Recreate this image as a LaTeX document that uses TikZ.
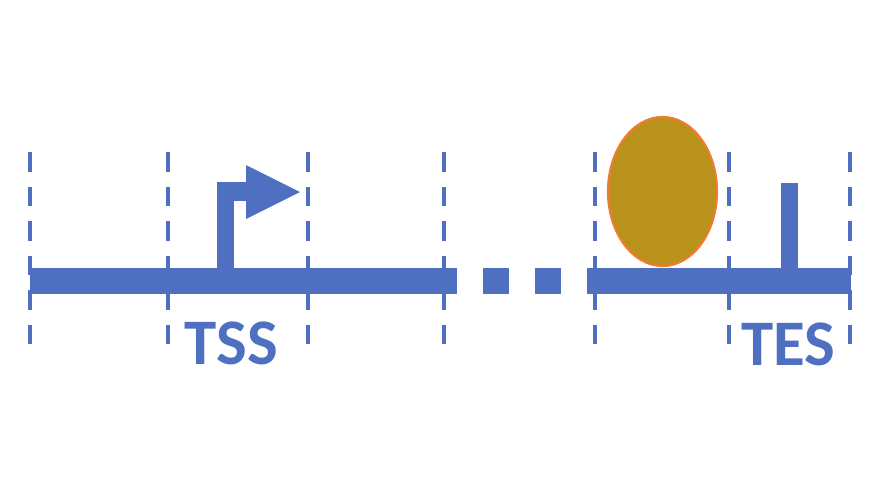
\documentclass[tikz,border=0pt]{standalone}
\usepackage{fontspec}
\usetikzlibrary{shapes.geometric}
\newfontfamily\labelfont{Carlito}
\definecolor{gblue}{HTML}{4F70C1}
\definecolor{gold}{HTML}{BA911B}
\definecolor{orng}{HTML}{ED7D31}
\tikzset{
  guide/.style={draw=gblue, line width=4.6pt, dash pattern=on 19.5pt off 15pt},
  strand/.style={fill=gblue, draw=none},
  sitelabel/.style={text=gblue, font=\labelfont\bfseries\fontsize{65}{65}\selectfont, inner sep=0pt, anchor=base}
}
\begin{document}
\begin{tikzpicture}[x=1pt,y=-1pt]
\useasboundingbox (0,0) rectangle (878,493);
% strands
\fill[strand] (30,268) rectangle (457,294);
\fill[strand] (483,268) rectangle (509,294);
\fill[strand] (535,268) rectangle (561,294);
\fill[strand] (587,268) rectangle (851,294);
% TSS promoter arrow
\fill[strand] (217,182) rectangle (234,270);
\fill[strand] (217,182) rectangle (247,201);
\fill[strand] (246,165) -- (300,192) -- (246,219) -- cycle;
% TES mark
\fill[strand] (781,183) rectangle (798,270);
% guides
\foreach \gx in {30,168,308,444,595,729,850}
  \draw[guide] (\gx,152) -- (\gx,345.5);
% protein
\node[ellipse, draw=orng, line width=2.2pt, fill=gold, minimum width=109pt, minimum height=149pt, inner sep=0pt] (pol) at (662.5,191.5) {};
% labels
\node[sitelabel] (tss) at (231.5,364) {TSS};
\node[sitelabel] (tes) at (788.5,365) {TES};
\end{tikzpicture}
\end{document}
